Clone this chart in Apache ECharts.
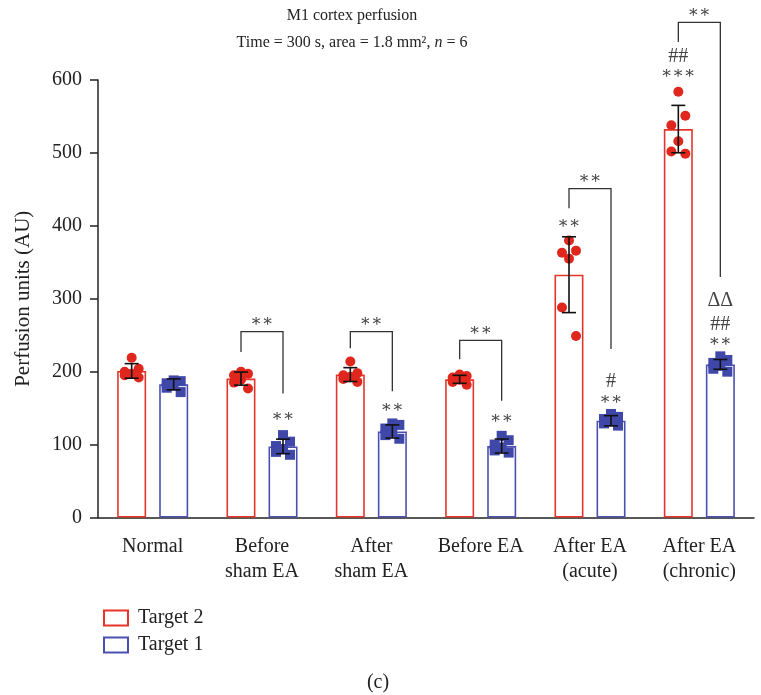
<!DOCTYPE html>
<html>
<head>
<meta charset="utf-8">
<script src="https://cdn.jsdelivr.net/npm/echarts@6/dist/echarts.min.js"></script>
<style>html,body{margin:0;padding:0;background:#fff;}#c{width:761px;height:695px;}</style>
</head>
<body>
<div id="c"></div>
<script>
var categories = ['Normal', 'Before\nsham EA', 'After\nsham EA', 'Before EA', 'After EA\n(acute)', 'After EA\n(chronic)'];
var yTicks = [0, 100, 200, 300, 400, 500, 600];

var target2Mean = [201, 190.5, 196, 189.5, 333, 532.7];
var target2SD = [10, 9, 9.5, 5.5, 52, 32.5];
var target2Points = [
  [219, 204, 200, 197, 195, 192],
  [200, 197, 195, 189, 185, 177],
  [214, 198, 195, 193, 190, 186],
  [196, 194, 192, 189, 186, 182],
  [380, 366, 363, 355, 288, 249],
  [584, 551, 538, 516, 502, 499]
];

var target1Mean = [182.6, 97.5, 118, 98, 132.7, 210];
var target1SD = [7.5, 10, 9, 9.6, 7, 6.7];
var target1Points = [
  [188, 187, 184, 181, 178, 172],
  [113, 104, 98, 94, 90, 86],
  [129, 127, 122, 117, 113, 108],
  [112, 106, 100, 96, 92, 89],
  [142, 138, 135, 132, 129, 126],
  [221, 216, 212, 208, 204, 200]
];

// brackets: [category, top, left end, right end, label]
var brackets = [
  [1, 255, 227, 170, '∗∗'],
  [2, 255, 232, 173, '∗∗'],
  [3, 243, 217, 160, '∗∗'],
  [4, 451, 424, 231, '∗∗'],
  [5, 679, 652, 330, '∗∗']
];
// significance marks: [category, side (0 = Target 2, 1 = Target 1), value, text]
var marks = [
  [1, 1, 139, '∗∗'],
  [2, 1, 151, '∗∗'],
  [3, 1, 136, '∗∗'],
  [4, 0, 403, '∗∗'],
  [4, 1, 186, '#'],
  [4, 1, 161.6, '∗∗'],
  [5, 0, 632, '##'],
  [5, 0, 609, '∗∗∗'],
  [5, 1, 296.6, 'ΔΔ'],
  [5, 1, 265, '##'],
  [5, 1, 240.7, '∗∗']
];

var RED = '#e5352b', BLUE = '#4a50b0';
var DOT_RED = '#e0271d', DOT_BLUE = '#3f47a9';
var SIDE_OFF = [-21, 21];
var JITTER = [0, 7, -7, 0, -7, 7];
var FONT = '"Liberation Serif", "DejaVu Serif", serif';

function pointData(pts) {
  var out = [];
  pts.forEach(function (arr, ci) {
    arr.forEach(function (v, k) { out.push([ci, v, k]); });
  });
  return out;
}

function pointsSeries(name, pts, side, color, square) {
  return {
    type: 'custom', name: name + ' pts', z: 3,
    data: pointData(pts),
    renderItem: function (params, api) {
      var p = api.coord([api.value(0), api.value(1)]);
      var x = p[0] + SIDE_OFF[side] + JITTER[api.value(2)];
      var y = p[1];
      if (square) {
        return { type: 'rect', shape: { x: x - 5, y: y - 5, width: 10, height: 10 }, style: { fill: color } };
      }
      return { type: 'circle', shape: { cx: x, cy: y, r: 5 }, style: { fill: color } };
    }
  };
}

function errSeries(name, mean, sd, side) {
  return {
    type: 'custom', name: name + ' err', z: 4,
    data: mean.map(function (m, i) { return [i, m, sd[i]]; }),
    renderItem: function (params, api) {
      var c = api.value(0), m = api.value(1), s = api.value(2);
      var top = api.coord([c, m + s]), bot = api.coord([c, m - s]);
      var x = top[0] + SIDE_OFF[side];
      var st = { stroke: '#111', lineWidth: 1.6 };
      return { type: 'group', children: [
        { type: 'line', shape: { x1: x, y1: top[1], x2: x, y2: bot[1] }, style: st },
        { type: 'line', shape: { x1: x - 7, y1: top[1], x2: x + 7, y2: top[1] }, style: st },
        { type: 'line', shape: { x1: x - 7, y1: bot[1], x2: x + 7, y2: bot[1] }, style: st }
      ] };
    }
  };
}

function markFont(t) {
  return (t.indexOf('∗') >= 0 ? '17px ' : '20px ') + FONT;
}

var option = {
  animation: false,
  backgroundColor: '#fff',
  title: {
    text: 'M1 cortex perfusion',
    subtext: 'Time = 300 s, area = 1.8 mm², {i|n} = 6',
    left: 347, top: 3, textAlign: 'center', itemGap: 11,
    textStyle: { fontFamily: FONT, fontSize: 16, fontWeight: 'normal', color: '#222' },
    subtextStyle: { fontFamily: FONT, fontSize: 16, color: '#222',
      rich: { i: { fontFamily: FONT, fontSize: 16, fontStyle: 'italic', color: '#222' } } }
  },
  legend: {
    orient: 'vertical', left: 98, top: 603, icon: 'rect',
    itemWidth: 24, itemHeight: 15, itemGap: 7,
    data: ['Target 2', 'Target 1'],
    textStyle: { fontFamily: FONT, fontSize: 20, color: '#222', padding: [0, 0, 0, 5] }
  },
  grid: { left: 98, right: 7, top: 80, bottom: 177.5 },
  xAxis: {
    type: 'category', data: categories,
    axisLine: { lineStyle: { color: '#222', width: 1.5 } },
    axisTick: { alignWithLabel: true, length: 6, lineStyle: { color: '#222', width: 1.5 } },
    axisLabel: { fontFamily: FONT, fontSize: 20, color: '#222', margin: 17, lineHeight: 25, interval: 0 }
  },
  yAxis: {
    type: 'value', min: 0, max: 600, interval: 100,
    name: 'Perfusion units (AU)', nameLocation: 'middle', nameGap: 64, nameRotate: 90,
    nameTextStyle: { fontFamily: FONT, fontSize: 21, color: '#222' },
    axisLine: { show: true, lineStyle: { color: '#222', width: 1.5 } },
    axisTick: { show: true, length: 8, lineStyle: { color: '#222', width: 1.5 } },
    axisLabel: { fontFamily: FONT, fontSize: 20, color: '#222', margin: 16,
      formatter: function (v) { return yTicks.indexOf(v) >= 0 ? String(v) : ''; } },
    splitLine: { show: false }
  },
  series: [
    { type: 'bar', name: 'Target 2', data: target2Mean, barWidth: 29, barGap: '45%', z: 2,
      itemStyle: { color: '#fff', borderColor: RED, borderWidth: 1.6 } },
    { type: 'bar', name: 'Target 1', data: target1Mean, barWidth: 29, barGap: '45%', z: 2,
      itemStyle: { color: '#fff', borderColor: BLUE, borderWidth: 1.6 } },
    pointsSeries('Target 2', target2Points, 0, DOT_RED, false),
    pointsSeries('Target 1', target1Points, 1, DOT_BLUE, true),
    errSeries('Target 2', target2Mean, target2SD, 0),
    errSeries('Target 1', target1Mean, target1SD, 1),
    {
      type: 'custom', name: 'brackets', z: 5, clip: false,
      data: brackets,
      renderItem: function (params, api) {
        var c = api.value(0);
        var t = api.coord([c, api.value(1)]);
        var l = api.coord([c, api.value(2)]);
        var r = api.coord([c, api.value(3)]);
        var xl = t[0] + SIDE_OFF[0], xr = t[0] + SIDE_OFF[1];
        var st = { stroke: '#333', lineWidth: 1.3, fill: null };
        var txt = brackets[params.dataIndex][4];
        return { type: 'group', children: [
          { type: 'polyline', shape: { points: [[xl, l[1]], [xl, t[1]], [xr, t[1]], [xr, r[1]]] }, style: st },
          { type: 'text', x: t[0], y: t[1] - 10, style: { text: txt, fill: '#444',
            font: markFont(txt), align: 'center', verticalAlign: 'middle' } }
        ] };
      }
    },
    {
      type: 'custom', name: 'marks', z: 5, clip: false,
      data: marks.map(function (m) { return [m[0], m[1], m[2]]; }),
      renderItem: function (params, api) {
        var p = api.coord([api.value(0), api.value(2)]);
        var txt = marks[params.dataIndex][3];
        return { type: 'text', x: p[0] + SIDE_OFF[api.value(1)], y: p[1],
          style: { text: txt, fill: '#444', font: markFont(txt),
            align: 'center', verticalAlign: 'middle' } };
      }
    }
  ],
  graphic: [
    { type: 'text', x: 378, y: 683, style: { text: '(c)', font: '20px ' + FONT, fill: '#222',
      align: 'center', verticalAlign: 'middle' } }
  ]
};

echarts.init(document.getElementById('c')).setOption(option);
</script>
</body>
</html>
